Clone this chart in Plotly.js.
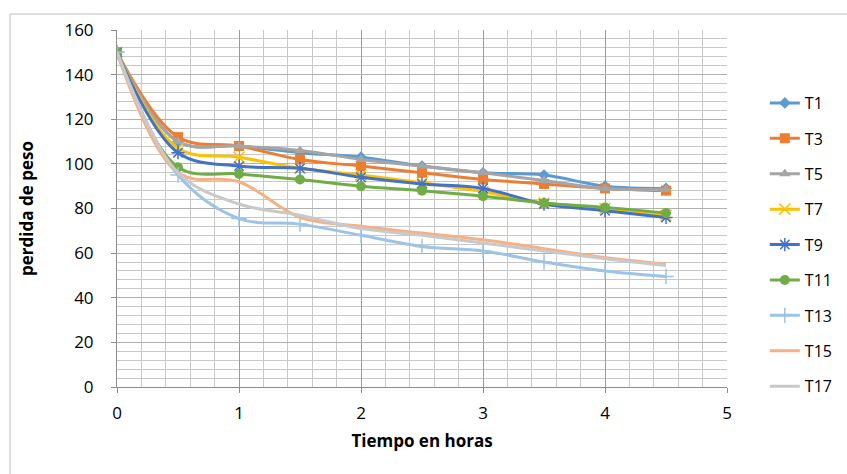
<!DOCTYPE html>
<html>
<head>
<meta charset="utf-8">
<script src="https://cdn.plot.ly/plotly-3.0.1.min.js"></script>
<style>
html,body{margin:0;padding:0;background:#fff;}
#chart{width:847px;height:474px;}
</style>
</head>
<body>
<div id="chart"></div>
<script>
const hours = [0, 0.5, 1, 1.5, 2, 2.5, 3, 3.5, 4, 4.5];
const T1  = [150, 110, 108, 105, 103, 99, 96, 95, 90, 89];
const T3  = [150, 112, 108, 102, 99, 96, 93, 91, 89, 88];
const T5  = [150, 110, 108, 106, 102, 99, 96, 92.5, 89, 88.5];
const T7  = [150, 107, 103, 98, 95, 91.5, 87.5, 82.5, 80, 77];
const T9  = [150, 105, 99, 98, 94, 91, 89, 82, 79, 76];
const T11 = [150, 98.5, 95.5, 93, 90, 88, 85.5, 82.5, 80.5, 78];
const T13 = [150, 95, 75.5, 73, 68, 63, 61, 56, 52, 49.5];
const T15 = [150, 96, 92, 76, 72, 69, 66, 62, 58, 55];
const T17 = [150, 96, 82, 77, 71, 68, 64.5, 61, 57.5, 54.5];

const names = ['T1','T3','T5','T7','T9','T11','T13','T15','T17'];
const seriesVals = [T1, T3, T5, T7, T9, T11, T13, T15, T17];
const colors = ['#5B9BD5','#ED7D31','#A5A5A5','#FFC000','#4472C4','#70AD47','#9DC3E6','#F4B183','#C9C9C9'];
const symbols = ['diamond','square','triangle-up','x-thin-open','asterisk-open','circle','cross-thin-open', null, null];
const sizes = [9, 10, 10, 11, 11, 10, 11, 0, 0];

const traces = names.map((n, i) => {
  const t = {
    x: hours, y: seriesVals[i], name: n, type: 'scatter',
    legendgroup: n,
    mode: symbols[i] ? 'lines+markers' : 'lines',
    line: {color: colors[i], width: 3, shape: 'spline', smoothing: 1},
  };
  if (symbols[i]) {
    t.marker = {symbol: symbols[i], size: sizes[i], color: colors[i],
                line: {color: colors[i], width: symbols[i].endsWith('open') ? 1.5 : 0}};
  }
  return t;
});

const layout = {
  width: 847, height: 474,
  margin: {l: 117, r: 120, t: 30, b: 87, autoexpand: false},
  paper_bgcolor: 'rgba(0,0,0,0)',
  plot_bgcolor: '#fff',
  font: {family: 'Open Sans, Liberation Sans, sans-serif', size: 16, color: '#000'},
  showlegend: true,
  legend: {x: 1.062, y: 0.843, xanchor: 'left', yanchor: 'top', tracegroupgap: 11.6,
           font: {size: 16, color: '#000'}},
  xaxis: {
    range: [0, 5], dtick: 1, tick0: 0,
    showgrid: true, gridcolor: '#9a9a9a', gridwidth: 1,
    minor: {dtick: 0.2, showgrid: true, gridcolor: '#c8c8c8', gridwidth: 1},
    showline: true, linecolor: '#8c8c8c', linewidth: 1,
    ticks: 'outside', ticklen: 5, tickcolor: '#8c8c8c',
    ticklabelstandoff: 6,
    zeroline: false,
    title: {text: '<b>Tiempo en horas</b>', font: {size: 17}, standoff: 11},
    tickfont: {size: 17}
  },
  yaxis: {
    range: [0, 160], dtick: 20, tick0: 0,
    showgrid: true, gridcolor: '#b0b0b0', gridwidth: 1,
    minor: {dtick: 4, showgrid: true, gridcolor: '#c8c8c8', gridwidth: 1},
    showline: true, linecolor: '#8c8c8c', linewidth: 1,
    ticks: 'outside', ticklen: 5, tickcolor: '#8c8c8c',
    ticklabelstandoff: 14,
    zeroline: false,
    title: {text: '<b>perdida de peso</b>', font: {size: 17}, standoff: 26},
    tickfont: {size: 17}
  },
  shapes: [{
    type: 'rect', xref: 'paper', yref: 'paper', layer: 'below',
    x0: -0.1754, x1: 1.5, y0: -0.3, y1: 1.0448,
    line: {color: '#bfbfbf', width: 1}, fillcolor: 'rgba(0,0,0,0)'
  }]
};

Plotly.newPlot('chart', traces, layout, {displayModeBar: false, staticPlot: true});
</script>
</body>
</html>
